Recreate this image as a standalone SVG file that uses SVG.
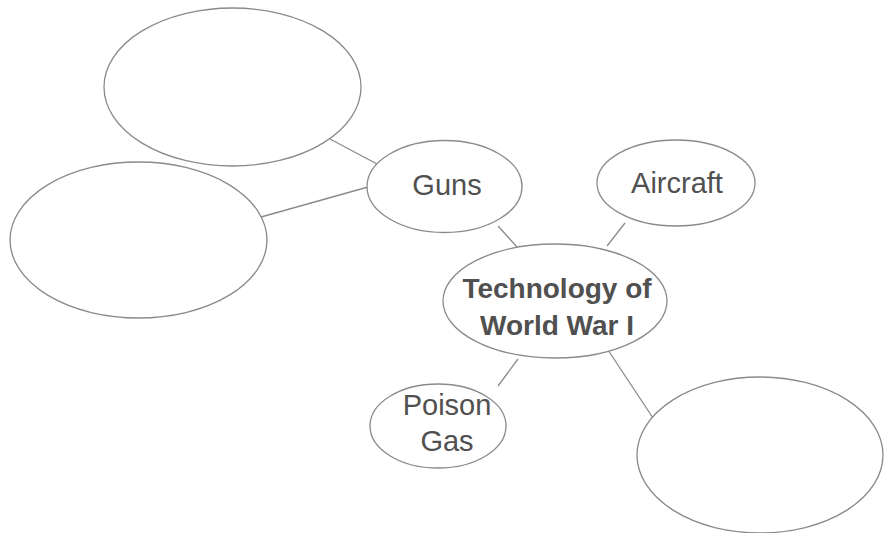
<svg xmlns="http://www.w3.org/2000/svg" width="885" height="533" viewBox="0 0 885 533">
<style>
.n{fill:#fff;stroke:#8a8a8a;stroke-width:1.3}
.c line{stroke:#8a8a8a;stroke-width:1.3}
.t{font-family:"Liberation Sans",Arial,sans-serif;font-size:29px;fill:#505050;text-anchor:middle}
.b{font-weight:bold;font-size:28px}
</style>
<rect width="885" height="533" fill="#fff"/>
<g class="c" id="connectors">
<line x1="330" y1="139" x2="377" y2="164"/>
<line x1="261" y1="217" x2="368" y2="187"/>
<line x1="498" y1="226" x2="517" y2="247"/>
<line x1="625" y1="223" x2="607" y2="246"/>
<line x1="518" y1="359" x2="498" y2="386"/>
<line x1="608" y1="350" x2="653" y2="418"/>
</g>
<g id="n-topleft"><ellipse class="n" cx="232.5" cy="87" rx="128.5" ry="79"/></g>
<g id="n-left"><ellipse class="n" cx="138.5" cy="240" rx="128.5" ry="78"/></g>
<g id="n-guns"><ellipse class="n" cx="444.5" cy="186.5" rx="77.5" ry="46"/><text class="t" x="447" y="195">Guns</text></g>
<g id="n-aircraft"><ellipse class="n" cx="676" cy="183" rx="79" ry="43"/><text class="t" x="677" y="193">Aircraft</text></g>
<g id="n-center"><ellipse class="n" cx="555" cy="301" rx="112" ry="57"/><text class="t b" x="557" y="298">Technology of</text><text class="t b" x="557" y="335">World War I</text></g>
<g id="n-poison"><ellipse class="n" cx="438" cy="426" rx="68" ry="42"/><text class="t" x="447" y="415">Poison</text><text class="t" x="447" y="451">Gas</text></g>
<g id="n-bottomright"><ellipse class="n" cx="760" cy="455" rx="123" ry="78"/></g>
</svg>
